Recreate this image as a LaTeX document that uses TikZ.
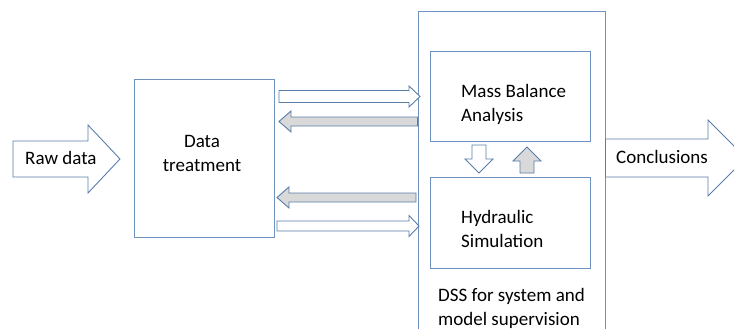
\documentclass[tikz,border=0pt]{standalone}
\usepackage{fontspec}
\setmainfont{Carlito}
\begin{document}
\begin{tikzpicture}[x=1pt,y=-1pt,
  edge/.style={draw=boxblue, line width=0.9pt},
  box/.style={edge, fill=white, inner sep=0pt},
  hollow/.style={draw=arrowblue, line width=0.9pt, fill=white, line join=miter},
  shaded/.style={draw=arrowblue, line width=0.9pt, fill=arrowgray, line join=miter},
  label/.style={font=\fontsize{19}{24}\selectfont, text=black, inner sep=0pt, align=left}]
\definecolor{boxblue}{RGB}{110,145,190}
\definecolor{arrowblue}{RGB}{90,125,170}
\definecolor{arrowgray}{RGB}{217,217,217}
\useasboundingbox (0,0) rectangle (734,329);
\clip (0,0) rectangle (734,329);

% main boxes
\node[box, minimum width=140pt, minimum height=158pt] (treat) at (204,158) {};
\node[box, minimum width=187pt, minimum height=340pt] (dss) at (511.5,181) {};
\node[box, minimum width=160pt, minimum height=90pt] (mba) at (510,96) {};
\node[box, minimum width=160pt, minimum height=91pt] (hyd) at (510,222.5) {};

% input and output block arrows
\draw[hollow] (13,141) -- (88,141) -- (88,125) -- (120,159) -- (88,193) -- (88,177) -- (13,177) -- cycle;
\draw[hollow] (dss.east |- 0,139) -- (708,139) -- (708,120) -- (746,158) -- (708,196) -- (708,177) -- (dss.east |- 0,177) -- cycle;

% exchanges between data treatment and the DSS
\draw[hollow] (279,90.5) -- (409,90.5) -- (409,86) -- (420,96.5) -- (409,107) -- (409,102.5) -- (279,102.5) -- cycle;
\draw[shaded] (dss.west |- 0,117) -- (291,117) -- (291,111) -- (279,121.5) -- (291,132) -- (291,126) -- (dss.west |- 0,126) -- cycle;
\draw[shaded] (416,193) -- (289,193) -- (289,187) -- (277,197.5) -- (289,208) -- (289,202) -- (416,202) -- cycle;
\draw[hollow] (277,221) -- (409,221) -- (409,215.5) -- (419,226) -- (409,236.5) -- (409,231) -- (277,231) -- cycle;

% exchanges between the two analyses
\draw[hollow] (472,145) -- (486,145) -- (486,159) -- (493,159) -- (479,173) -- (465,159) -- (472,159) -- cycle;
\draw[shaded] (520,173) -- (534,173) -- (534,161) -- (541,161) -- (527,147) -- (513,161) -- (520,161) -- cycle;

% texts
\node[label, anchor=west] (raw) at (25,158) {Raw data};
\node[label, align=center] (dtxt) at (202,153) {Data\\treatment};
\node[label, anchor=west] (mtxt) at (461,104) {Mass Balance\\Analysis};
\node[label, anchor=west] (htxt) at (461,229) {Hydraulic\\Simulation};
\node[label, anchor=west] (ctxt) at (616,157) {Conclusions};
\node[label, anchor=west] (stxt) at (438,308) {DSS for system and\\model supervision};
\end{tikzpicture}
\end{document}
